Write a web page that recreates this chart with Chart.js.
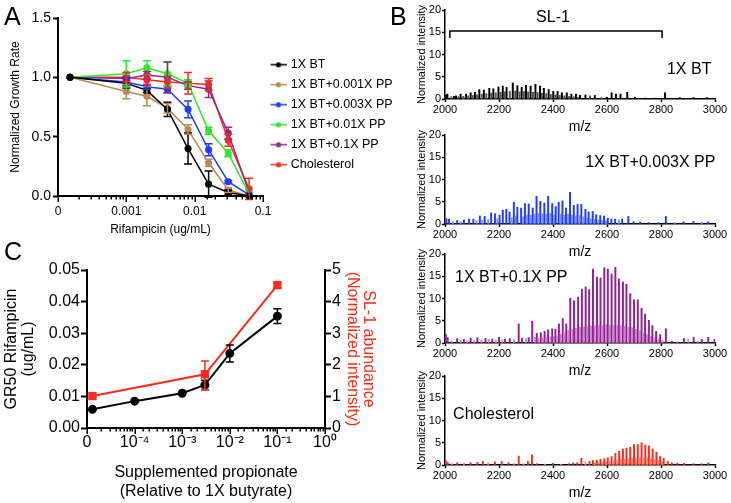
<!DOCTYPE html>
<html><head><meta charset="utf-8">
<script src="https://cdn.jsdelivr.net/npm/chart.js@4.4.1/dist/chart.umd.min.js"></script>
<style>
html,body{margin:0;padding:0;background:#fff;}
#wrap{position:relative;width:731px;height:503px;overflow:hidden;background:#fff;font-family:"Liberation Sans",Arial,Helvetica,sans-serif;}
#wrap canvas{position:absolute;}
.lbl{position:absolute;font-size:25px;line-height:1;color:#000;}
</style></head><body>
<div id="wrap">
<canvas id="cA" style="left:0px;top:0px" width="401" height="245"></canvas>
<canvas id="cC" style="left:0px;top:255px" width="390" height="248"></canvas>
<canvas id="s1" style="left:400px;top:0px" width="331" height="137"></canvas>
<canvas id="s2" style="left:400px;top:125px" width="331" height="137"></canvas>
<canvas id="s3" style="left:400px;top:244px" width="331" height="137"></canvas>
<canvas id="s4" style="left:400px;top:366px" width="331" height="137"></canvas>
<div class="lbl" style="left:4px;top:4px">A</div>
<div class="lbl" style="left:390px;top:4px">B</div>
<div class="lbl" style="left:4px;top:239px">C</div>
</div>
<script>
Chart.defaults.font.family = '"Liberation Sans", Arial, Helvetica, sans-serif';
Chart.defaults.color = '#000';
Chart.defaults.animation = false;

// ---------- Panel A data ----------
const aConc = [0.00015, 0.001, 0.002, 0.004, 0.008, 0.016, 0.031, 0.0625];
const aNames = ['1X BT', '1X BT+0.001X PP', '1X BT+0.003X PP', '1X BT+0.01X PP', '1X BT+0.1X PP', 'Cholesterol'];
const aColors = ['#000000', '#bb8a58', '#1f3cff', '#2ee82e', '#8f2a90', '#ff2a1a'];
const aBT      = [1.00, 0.95, 0.89, 0.73, 0.40, 0.10, 0.03, 0.00];
const aBTErr   = [0, 0.04, 0.02, 0.06, 0.13, 0.11, 0.02, 0];
const aPP001   = [1.00, 0.88, 0.84, 0.74, 0.56, 0.28, 0.05, 0.00];
const aPP001Err= [0, 0.06, 0.08, 0.04, 0.04, 0.03, 0.02, 0];
const aPP003   = [1.00, 0.96, 0.92, 0.90, 0.73, 0.39, 0.12, 0.01];
const aPP003Err= [0, 0.03, 0.02, 0.03, 0.07, 0.05, 0.01, 0];
const aPP01    = [1.00, 1.03, 1.08, 1.03, 0.95, 0.55, 0.36, 0.02];
const aPP01Err = [0, 0.11, 0.06, 0.10, 0.03, 0.03, 0.03, 0];
const aPP1     = [1.00, 0.99, 1.02, 1.00, 0.93, 0.90, 0.53, 0.03];
const aPP1Err  = [0, 0.02, 0.03, 0.13, 0.03, 0.07, 0.05, 0];
const aChol    = [1.00, 1.00, 0.98, 0.96, 0.95, 0.94, 0.47, 0.06];
const aCholErr = [0, 0.04, 0.04, 0.05, 0.09, 0.05, 0.05, 0.09];
const aXPowers = [-4, -3, -2, -1];
const aXLabels = ['0', '0.001', '0.01', '0.1'];

// ---------- Panel C data ----------
const cConcGR = [0.000013, 0.0001, 0.001, 0.003, 0.01, 0.1];
const cGR50    = [0.0059, 0.0085, 0.0110, 0.0136, 0.0236, 0.0354];
const cGR50Err = [0, 0, 0, 0.0015, 0.0027, 0.0023];
const cConcSL = [0.000013, 0.003, 0.1];
const cSL1    = [1.01, 1.70, 4.52];
const cSL1Err = [0, [0.42, 0.48], 0.08];
const cXPowers = [-5, -4, -3, -2, -1, 0];
const cXLabels = ['0', '10\u207B\u2074', '10\u207B\u00B3', '10\u207B\u00B2', '10\u207B\u00B9', '10\u2070'];

// ---------- Panel B spectra ----------
const s1Mz  = [2004,2009,2023,2033,2041,2050,2058,2068,2078,2086,2095,2103,2111,2119,2127,2136,2144,2153,2164,2171,2179,2188,2198,2206,2214,2221,2228,2240,2251,2260,2268,2276,2284,2292,2300,2308,2317,2326,2335,2343,2352,2359,2366,2375,2384,2392,2401,2409,2417,2425,2433,2442,2451,2460,2468,2476,2485,2492,2500,2520,2537,2555,2580,2600,2617,2633,2650,2675,2704,2740,2780,2815,2870,2920,2970];
const s1Int = [0.9,1.1,0.5,0.6,0.7,0.5,1.1,0.6,1.1,0.7,1.4,0.8,1.5,0.9,2.1,1.1,2.0,1.2,2.4,1.3,2.3,1.4,2.7,1.5,2.9,1.6,2.6,1.7,3.6,1.8,3.0,1.6,2.6,1.7,3.1,1.6,2.9,1.5,3.3,1.5,2.9,1.3,2.4,1.2,2.1,1.0,1.7,0.9,1.7,0.8,1.4,0.7,1.4,0.6,1.1,0.5,1.1,0.4,0.8,0.9,0.7,0.8,0.3,0.4,1.4,1.1,1.1,1.5,0.4,0.2,0.2,1.4,0.3,0.3,0.3];
const s2Mz  = [2005,2015,2030,2045,2058,2070,2089,2105,2117,2129,2138,2147,2160,2171,2185,2194,2202,2214,2227,2239,2247,2255,2262,2268,2282,2289,2296,2303,2310,2318,2325,2332,2339,2346,2353,2361,2368,2375,2382,2390,2397,2404,2410,2421,2428,2435,2442,2448,2456,2463,2470,2477,2484,2491,2498,2505,2512,2520,2526,2532,2540,2547,2554,2560,2568,2575,2582,2589,2596,2603,2616,2630,2644,2656,2679,2698,2723,2754,2790,2818,2850,2883,2920,2951,2975];
const s2Int = [1.2,1.1,0.5,0.8,0.5,0.9,1.1,1.1,0.8,1.8,0.9,1.7,1.0,2.5,2.3,1.2,2.0,3.1,3.3,2.7,1.4,4.9,1.8,3.8,3.6,1.6,4.6,2.0,4.5,2.0,3.6,2.2,6.2,2.4,5.1,2.3,4.7,2.2,6.2,2.4,4.6,2.0,3.9,4.9,2.2,5.2,2.0,3.6,2.2,7.1,2.0,4.2,1.8,4.4,1.9,4.4,1.6,3.3,1.4,2.7,1.2,2.8,1.0,2.1,0.9,1.9,0.8,1.8,0.7,1.3,1.1,1.1,0.9,1.1,1.7,0.5,0.4,0.3,0.3,1.7,0.3,0.5,0.6,0.4,0.5];
const s3Mz  = [2003,2010,2025,2045,2058,2070,2083,2095,2108,2120,2135,2150,2162,2175,2188,2200,2212,2222,2240,2255,2273,2285,2300,2310,2323,2333,2340,2347,2355,2362,2369,2375,2382,2390,2397,2403,2409,2416,2422,2429,2436,2442,2449,2456,2464,2471,2478,2485,2493,2500,2507,2514,2521,2528,2534,2541,2548,2555,2563,2569,2576,2583,2590,2597,2603,2610,2617,2624,2631,2638,2644,2651,2659,2665,2672,2679,2686,2693,2700,2707,2714,2721,2728,2735,2741,2748,2755,2762,2768,2775,2782,2790,2797,2805,2818,2840,2860,2885,2901,2921,2935,2951,2975,2998];
const s3Int = [2.0,1.2,0.5,1.0,0.6,0.8,0.5,1.1,0.6,1.2,0.7,1.0,0.8,0.9,0.6,1.3,0.7,0.8,1.0,0.8,4.3,1.1,1.0,1.2,4.9,1.3,2.2,1.0,2.3,1.2,2.6,1.3,3.0,1.4,3.2,1.5,3.1,1.6,4.3,2.0,5.5,2.3,4.3,2.8,10.1,3.0,9.5,3.3,10.3,3.5,12.1,3.6,12.6,3.7,12.0,3.8,16.6,3.9,14.8,4.0,14.6,4.0,16.9,4.1,16.6,4.0,15.5,4.0,17.0,4.0,14.4,3.9,13.7,3.8,13.2,3.6,11.1,3.4,9.7,3.1,9.7,2.7,7.8,2.3,6.5,1.9,5.1,1.5,3.9,1.2,2.6,0.9,1.9,0.6,3.2,0.4,0.3,1.0,0.9,1.3,0.4,0.8,1.3,0.8];
const s4Mz  = [2003,2010,2025,2045,2070,2095,2120,2140,2160,2185,2210,2235,2255,2273,2290,2307,2322,2340,2370,2400,2430,2460,2475,2490,2505,2520,2535,2548,2555,2562,2569,2576,2583,2590,2597,2603,2610,2617,2624,2631,2638,2645,2652,2659,2665,2672,2679,2686,2693,2700,2707,2714,2721,2728,2735,2742,2749,2755,2762,2769,2776,2783,2790,2797,2804,2810,2825,2840,2860,2885,2920,2950,2975];
const s4Int = [1.0,0.6,0.3,0.5,0.4,0.5,0.6,0.8,0.5,0.7,0.8,0.5,0.3,2.0,0.3,0.8,2.3,0.3,0.2,0.4,0.2,0.3,0.5,0.5,1.5,0.7,0.8,1.0,0.4,1.1,0.5,1.3,0.6,1.4,0.7,1.6,0.8,1.9,0.9,2.6,1.1,3.1,1.2,3.6,1.3,3.8,1.4,4.0,1.5,4.6,1.6,4.6,1.6,5.0,1.6,4.5,1.5,4.3,1.4,3.6,1.2,2.9,1.0,1.9,0.7,1.5,0.8,0.5,0.4,0.4,0.3,0.3,0.5];
const specLabels = ['1X BT', '1X BT+0.003X PP', '1X BT+0.1X PP', 'Cholesterol'];
const specColors = ['#000000', '#1f3cff', '#951f96', '#ff2a1a'];
const specLight  = ['#555555', '#7f93ff', '#c98ac9', '#ff8a80'];
const specXTicks = [2000, 2200, 2400, 2600, 2800, 3000];

// ---------- helpers / plugins ----------
function decadeLabel(v, powers, labels) {
  const l = Math.log10(v), r = Math.round(l);
  if (Math.abs(l - r) > 1e-6) return '';
  const i = powers.indexOf(r);
  return i < 0 ? '' : labels[i];
}
const logTickPlugin = {
  id: 'logTickMarks',
  afterDraw(chart, args, opts) {
    const s = chart.scales.x, ctx = chart.ctx;
    ctx.save(); ctx.strokeStyle = '#000'; ctx.lineWidth = opts.width || 1.5;
    for (const t of s.ticks) {
      const l = Math.log10(t.value);
      const major = Math.abs(l - Math.round(l)) < 1e-6;
      const px = Math.round(s.getPixelForValue(t.value)) + 0.25;
      ctx.beginPath(); ctx.moveTo(px, s.top); ctx.lineTo(px, s.top + (major ? opts.major : opts.minor)); ctx.stroke();
    }
    ctx.restore();
  }
};
const errorBarPlugin = {
  id: 'errorBars',
  afterDatasetsDraw(chart, args, opts) {
    const ctx = chart.ctx;
    chart.data.datasets.forEach((ds, i) => {
      if (!ds.errors) return;
      const meta = chart.getDatasetMeta(i);
      const ys = chart.scales[meta.yAxisID];
      ctx.save(); ctx.strokeStyle = ds.borderColor; ctx.lineWidth = opts.lineWidth || 1.5;
      meta.data.forEach((pt, j) => {
        const e = ds.errors[j]; if (!e) return;
        const v = ds.data[j].y;
        const eu = Array.isArray(e) ? e[0] : e, ed = Array.isArray(e) ? e[1] : e;
        const up = ys.getPixelForValue(v + eu), dn = ys.getPixelForValue(v - ed);
        const x = pt.x, c = opts.cap || 4;
        ctx.beginPath();
        ctx.moveTo(x, up); ctx.lineTo(x, dn);
        ctx.moveTo(x - c, up); ctx.lineTo(x + c, up);
        ctx.moveTo(x - c, dn); ctx.lineTo(x + c, dn);
        ctx.stroke();
      });
      ctx.restore();
    });
  }
};
// fixes the legend box width so the plot area keeps its place
const legendWidthPlugin = {
  id: 'legendWidth',
  beforeLayout(chart, args, opts) {
    const lg = chart.legend;
    if (lg && !lg._fixedWidth) {
      const f = lg.fit;
      lg.fit = function () { f.apply(this, arguments); this.width = opts.width; };
      lg._fixedWidth = true;
    }
  }
};
// legend marker: short line with a dot
function legendMarker(color) {
  const c = document.createElement('canvas'); c.width = 18; c.height = 7;
  const g = c.getContext('2d');
  g.strokeStyle = color; g.lineWidth = 1.5;
  g.beginPath(); g.moveTo(2, 3.5); g.lineTo(18, 3.5); g.stroke();
  g.fillStyle = color; g.beginPath(); g.arc(10, 3.5, 2.6, 0, Math.PI * 2); g.fill();
  return c;
}

// ---------- Panel A ----------
const aVals = [aBT, aPP001, aPP003, aPP01, aPP1, aChol];
const aErrs = [aBTErr, aPP001Err, aPP003Err, aPP01Err, aPP1Err, aCholErr];
new Chart(document.getElementById('cA'), {
  type: 'line',
  data: {
    datasets: aNames.map((name, k) => ({
      label: name,
      data: aConc.map((x, i) => ({x: x, y: aVals[k][i]})),
      errors: aErrs[k],
      borderColor: aColors[k], backgroundColor: aColors[k],
      pointBackgroundColor: aColors[k], pointBorderColor: aColors[k],
      pointRadius: 2.8, pointHoverRadius: 2.8, borderWidth: 1.5, tension: 0, clip: false
    }))
  },
  options: {
    responsive: false, animation: false, events: [],
    layout: {padding: {top: 18, left: 0, right: 0, bottom: 0}},
    scales: {
      x: {
        type: 'logarithmic', min: 0.0001, max: 0.1,
        border: {display: true, color: '#000', width: 2},
        grid: {display: false, drawTicks: false},
        ticks: {autoSkip: false, maxRotation: 0, padding: 8, font: {size: 12},
          callback: v => decadeLabel(v, aXPowers, aXLabels)},
        title: {display: true, text: 'Rifampicin (ug/mL)', font: {size: 12}, padding: {top: 0, bottom: 8}},
        afterFit: s => { s.height = 49; }
      },
      y: {
        min: 0, max: 1.5,
        border: {display: true, color: '#000', width: 2},
        grid: {display: true, drawOnChartArea: false, drawTicks: true, tickLength: 5, tickColor: '#000', tickWidth: 2},
        ticks: {stepSize: 0.5, padding: 2, font: {size: 14}, callback: v => v.toFixed(1)},
        title: {display: true, text: 'Normalized Growth Rate', font: {size: 12}, padding: {top: 8, bottom: 0}},
        afterFit: s => { s.width = 58; }
      }
    },
    plugins: {
      legend: {
        display: true, position: 'right', align: 'start', maxWidth: 300,
        title: {display: true, text: ' ', font: {size: 10}, padding: {top: 10.5, bottom: 10.5}},
        labels: {
          usePointStyle: true, pointStyleWidth: 14, boxWidth: 14, boxHeight: 12, padding: 7.5,
          font: {size: 12.5}, color: '#000',
          generateLabels: chart => chart.data.datasets.map((ds, i) => ({
            text: ds.label, pointStyle: legendMarker(ds.borderColor),
            fillStyle: ds.borderColor, strokeStyle: ds.borderColor, lineWidth: 0,
            hidden: false, datasetIndex: i, fontColor: '#000'
          }))
        }
      },
      legendWidth: {width: 138},
      tooltip: {enabled: false},
      logTickMarks: {major: 6, minor: 3.5, width: 1.5},
      errorBars: {cap: 4, lineWidth: 1.5}
    }
  },
  plugins: [legendWidthPlugin, logTickPlugin, errorBarPlugin]
});

// ---------- Panel C ----------
new Chart(document.getElementById('cC'), {
  type: 'line',
  data: {
    datasets: [
      {label: 'GR50 Rifampicin', yAxisID: 'y',
       data: cConcGR.map((x, i) => ({x: x, y: cGR50[i]})), errors: cGR50Err,
       borderColor: '#000', backgroundColor: '#000', pointBackgroundColor: '#000', pointBorderColor: '#000',
       pointRadius: 3.5, pointHoverRadius: 3.5, borderWidth: 2, clip: false},
      {label: 'SL-1 abundance', yAxisID: 'y1',
       data: cConcSL.map((x, i) => ({x: x, y: cSL1[i]})), errors: cSL1Err,
       borderColor: '#ff2a1a', backgroundColor: '#ff2a1a', pointBackgroundColor: '#ff2a1a', pointBorderColor: '#ff2a1a',
       pointStyle: 'rect', pointRadius: 4.5, pointHoverRadius: 4.5, borderWidth: 2, clip: false}
    ]
  },
  options: {
    responsive: false, animation: false, events: [],
    layout: {padding: {top: 15, left: 0, right: 0, bottom: 0}},
    scales: {
      x: {
        type: 'logarithmic', min: 0.00001, max: 1,
        border: {display: true, color: '#000', width: 2},
        grid: {display: false, drawTicks: false},
        ticks: {autoSkip: false, maxRotation: 0, padding: 5, font: {size: 16},
          callback: v => decadeLabel(v, cXPowers, cXLabels)},
        title: {display: true, text: ['Supplemented propionate', '(Relative to 1X butyrate)'], font: {size: 16}, padding: {top: 0, bottom: 2}},
        afterFit: s => { s.height = 75; }
      },
      y: {
        position: 'left', min: 0, max: 0.05,
        border: {display: true, color: '#000', width: 2},
        grid: {display: true, drawOnChartArea: false, drawTicks: true, tickLength: 6, tickColor: '#000', tickWidth: 2},
        ticks: {stepSize: 0.01, padding: 1, font: {size: 16}, callback: v => v.toFixed(2)},
        title: {display: true, text: ['GR50 Rifampicin', '(ug/mL)'], font: {size: 16, lineHeight: 1.05}, padding: {top: 3, bottom: 0}},
        afterFit: s => { s.width = 87; }
      },
      y1: {
        position: 'right', min: 0, max: 5,
        border: {display: true, color: '#000', width: 2},
        grid: {display: true, drawOnChartArea: false, drawTicks: true, tickLength: 6, tickColor: '#000', tickWidth: 2},
        ticks: {stepSize: 1, padding: 1, font: {size: 16}},
        title: {display: true, text: ['SL-1 abundance', '(Normalized intensity)'], color: '#ff2a1a', font: {size: 16, lineHeight: 1.0}, padding: {top: 14, bottom: 0}},
        afterFit: s => { s.width = 65; }
      }
    },
    plugins: {
      legend: {display: false}, tooltip: {enabled: false},
      logTickMarks: {major: 6, minor: 3.5, width: 1.5},
      errorBars: {cap: 4, lineWidth: 1.5}
    }
  },
  plugins: [logTickPlugin, errorBarPlugin]
});

// ---------- Panel B ----------
const specAnnoPlugin = {
  id: 'specAnno',
  afterDraw(chart, args, opts) {
    const ctx = chart.ctx, xs = chart.scales.x, ys = chart.scales.y;
    ctx.save();
    ctx.fillStyle = '#000';
    (opts.labels || []).forEach(l => {
      ctx.font = (l.size || 16) + 'px "Liberation Sans", Arial, sans-serif';
      ctx.textAlign = l.align || 'left'; ctx.textBaseline = 'middle';
      ctx.fillText(l.text, xs.getPixelForValue(l.x), ys.getPixelForValue(l.y));
    });
    if (opts.bracket) {
      const b = opts.bracket;
      const x1 = xs.getPixelForValue(b.x1), x2 = xs.getPixelForValue(b.x2);
      const y = ys.getPixelForValue(b.y), y2 = ys.getPixelForValue(b.yEnd);
      ctx.strokeStyle = '#000'; ctx.lineWidth = 1.5;
      ctx.beginPath(); ctx.moveTo(x1, y2); ctx.lineTo(x1, y); ctx.lineTo(x2, y); ctx.lineTo(x2, y2); ctx.stroke();
    }
    ctx.restore();
  }
};
function spectrum(id, mz, inten, color, light, anno) {
  new Chart(document.getElementById(id), {
    type: 'bar',
    data: {datasets: [{
      data: mz.map((x, i) => ({x: x, y: inten[i]})),
      // smaller in-between peaks are shown in a paler shade
      backgroundColor: c => {
        const i = c.dataIndex, v = inten[i];
        const lo = (i > 0 && inten[i - 1] > v) && (i < inten.length - 1 && inten[i + 1] > v);
        return lo ? light : color;
      },
      borderWidth: 0, barThickness: 1.3, grouped: false}]},
    options: {
      responsive: false, animation: false, events: [],
      layout: {padding: {top: 10, right: 16, left: 0, bottom: 0}},
      scales: {
        x: {
          type: 'linear', min: 2000, max: 3000, offset: false,
          border: {display: true, color: '#000', width: 1.5},
          grid: {display: true, offset: false, drawOnChartArea: false, drawTicks: true, tickLength: 3, tickColor: '#000', tickWidth: 1.5},
          afterBuildTicks: s => { s.ticks = specXTicks.map(v => ({value: v})); },
          ticks: {autoSkip: false, maxRotation: 0, padding: 1.5, font: {size: 11}, callback: v => String(v)},
          title: {display: true, text: 'm/z', font: {size: 14}, padding: {top: 0, bottom: 1}},
          afterFit: s => { s.height = 38; }
        },
        y: {
          min: 0, max: 20,
          border: {display: true, color: '#000', width: 1.5},
          grid: {display: true, drawOnChartArea: false, drawTicks: true, tickLength: 3, tickColor: '#000', tickWidth: 1.5},
          ticks: {stepSize: 5, padding: 1, font: {size: 11}},
          title: {display: true, text: 'Normalized intensity', font: {size: 11}, padding: {top: 15, bottom: 0}},
          afterFit: s => { s.width = 45; }
        }
      },
      plugins: {legend: {display: false}, tooltip: {enabled: false}, specAnno: anno}
    },
    plugins: [specAnnoPlugin]
  });
}
spectrum('s1', s1Mz, s1Int, specColors[0], specLight[0], {
  labels: [{text: specLabels[0], x: 2822, y: 6.5, size: 16}, {text: 'SL-1', x: 2400, y: 18.4, size: 16, align: 'center'}],
  bracket: {x1: 2018, x2: 2804, y: 15.3, yEnd: 13.7}
});
spectrum('s2', s2Mz, s2Int, specColors[1], specLight[1], {labels: [{text: specLabels[1], x: 2519, y: 13.7, size: 16}]});
spectrum('s3', s3Mz, s3Int, specColors[2], specLight[2], {labels: [{text: specLabels[2], x: 2037, y: 14.8, size: 16}]});
spectrum('s4', s4Mz, s4Int, specColors[3], specLight[3], {labels: [{text: specLabels[3], x: 2030, y: 11.3, size: 16}]});
</script>
</body></html>
